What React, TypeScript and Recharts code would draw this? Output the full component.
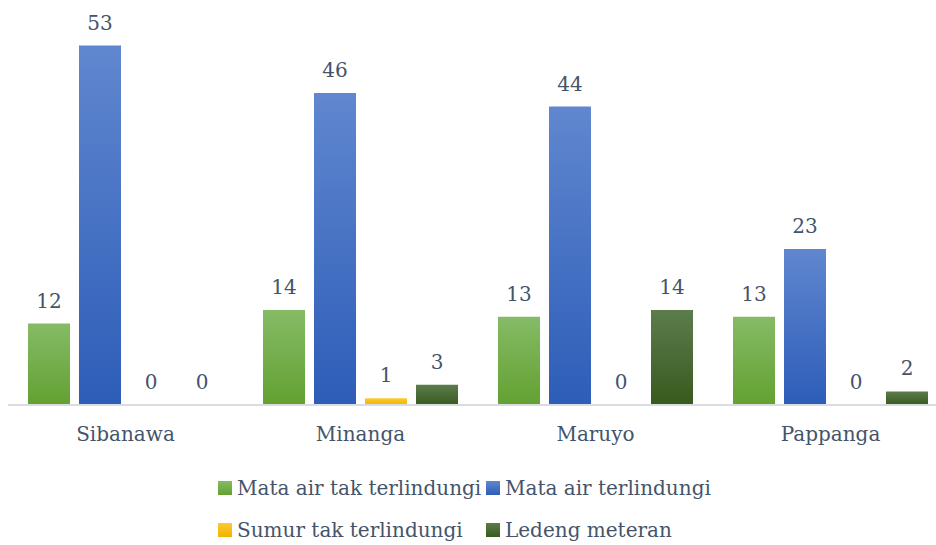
import { BarChart, Bar, XAxis, YAxis, LabelList, Legend } from 'recharts'

const categories = ['Sibanawa', 'Minanga', 'Maruyo', 'Pappanga']
const mataAirTakTerlindungi = [12, 14, 13, 13]
const mataAirTerlindungi = [53, 46, 44, 23]
const sumurTakTerlindungi = [0, 1, 0, 0]
const ledengMeteran = [0, 3, 14, 2]

const seriesNames = ['Mata air tak terlindungi', 'Mata air terlindungi', 'Sumur tak terlindungi', 'Ledeng meteran']

const data = categories.map((name, i) => ({
  name,
  a: mataAirTakTerlindungi[i],
  b: mataAirTerlindungi[i],
  c: sumurTakTerlindungi[i],
  d: ledengMeteran[i]
}))

const font = '"DejaVu Serif", serif'
const textColor = '#44546a'

const grads = [
  { id: 'gA', top: '#85bb66', bottom: '#62a131' },
  { id: 'gB', top: '#6087cf', bottom: '#2d5db8' },
  { id: 'gC', top: '#ffc930', bottom: '#f0b400' },
  { id: 'gD', top: '#5c7c4c', bottom: '#385a1d' }
]

function LegendBox() {
  const cols = [218, 486]
  const rows = [41, 83]
  return (
    <div style={{ position: 'relative', height: 98, width: 936 }}>
      {seriesNames.map((n, i) => (
        <div key={n} style={{
          position: 'absolute', left: cols[i % 2], top: rows[Math.floor(i / 2)] - 14,
          height: 28, display: 'flex', alignItems: 'center', whiteSpace: 'nowrap'
        }}>
          <span style={{
            width: 14, height: 14, marginRight: 5, display: 'inline-block',
            background: `linear-gradient(${grads[i].top}, ${grads[i].bottom})`
          }} />
          <span style={{ fontFamily: font, fontSize: 20, color: textColor }}>{n}</span>
        </div>
      ))}
    </div>
  )
}

export default function App() {
  const labelProps = { position: 'top' as const, offset: 16, fill: textColor, fontSize: 20, fontFamily: font }
  return (
    <div style={{ position: 'absolute', left: 0, top: 0, width: 936, height: 545, overflow: 'hidden', background: '#fff' }}>
      <BarChart
        width={950} height={545} data={data}
        margin={{ top: 32, right: 2, left: 8, bottom: 0 }}
        barCategoryGap={20} barGap={9}
      >
        <defs>
          {grads.map((g) => (
            <linearGradient key={g.id} id={g.id} x1="0" y1="0" x2="0" y2="1">
              <stop offset="0%" stopColor={g.top} />
              <stop offset="100%" stopColor={g.bottom} />
            </linearGradient>
          ))}
        </defs>
        <XAxis
          dataKey="name" interval={0} height={42} tickLine={false} tickMargin={16}
          axisLine={{ stroke: '#d9dce1', strokeWidth: 2 }}
          tick={{ fill: textColor, fontSize: 20, fontFamily: font }}
        />
        <YAxis hide domain={[0, 55]} />
        <Legend verticalAlign="bottom" content={<LegendBox />} wrapperStyle={{ left: 0, width: 936 }} />
        <Bar dataKey="a" name={seriesNames[0]} fill="url(#gA)" minPointSize={0.01} isAnimationActive={false}>
          <LabelList dataKey="a" {...labelProps} />
        </Bar>
        <Bar dataKey="b" name={seriesNames[1]} fill="url(#gB)" minPointSize={0.01} isAnimationActive={false}>
          <LabelList dataKey="b" {...labelProps} />
        </Bar>
        <Bar dataKey="c" name={seriesNames[2]} fill="url(#gC)" minPointSize={0.01} isAnimationActive={false}>
          <LabelList dataKey="c" {...labelProps} />
        </Bar>
        <Bar dataKey="d" name={seriesNames[3]} fill="url(#gD)" minPointSize={0.01} isAnimationActive={false}>
          <LabelList dataKey="d" {...labelProps} />
        </Bar>
      </BarChart>
    </div>
  )
}
